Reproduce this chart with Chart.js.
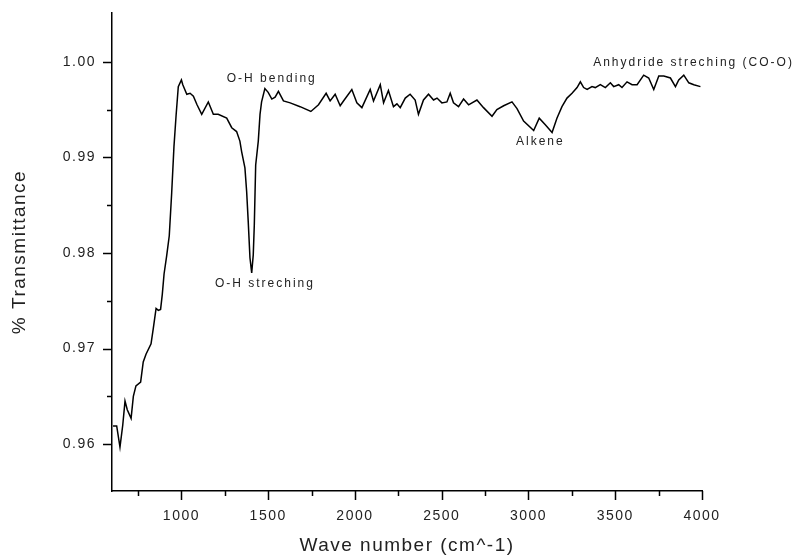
<!DOCTYPE html>
<html>
<head>
<meta charset="utf-8">
<script src="https://cdn.jsdelivr.net/npm/chart.js@4.4.1/dist/chart.umd.min.js"></script>
<style>
  html, body { margin: 0; padding: 0; background: #fff; }
  #wrap { width: 792px; height: 558px; }
</style>
</head>
<body>
<div id="wrap"><canvas id="ftirChart" width="792" height="558"></canvas></div>
<script>
// FTIR spectrum
const waveNumbers = [
  606, 627, 646, 662, 675, 688, 710, 723, 738, 765, 780, 796, 825, 838, 854, 867, 880, 890,
  900, 915, 930, 944, 957, 969, 982, 1000, 1008, 1031, 1050, 1069, 1090, 1117, 1155, 1184,
  1212, 1261, 1290, 1318, 1337, 1347, 1366, 1376, 1385, 1395, 1405, 1414, 1420, 1428, 1443,
  1453, 1462, 1481, 1500, 1521, 1540, 1559, 1588, 1627, 1684, 1746, 1790, 1834, 1857, 1886,
  1915, 1934, 1982, 2011, 2040, 2088, 2107, 2146, 2165, 2193, 2222, 2242, 2261, 2290, 2318,
  2347, 2366, 2395, 2424, 2453, 2473, 2501, 2530, 2549, 2568, 2597, 2626, 2655, 2703, 2741,
  2790, 2818, 2857, 2905, 2934, 2972, 3030, 3062, 3097, 3136, 3164, 3193, 3222, 3251, 3280,
  3299, 3318, 3338, 3366, 3385, 3414, 3443, 3472, 3491, 3520, 3539, 3568, 3597, 3626, 3664,
  3693, 3722, 3751, 3780, 3818, 3847, 3866, 3895, 3924, 3953, 3991
];
const transmittance = [
  0.9619, 0.9619, 0.9597, 0.9620, 0.9645, 0.9636, 0.9627, 0.9650, 0.9661, 0.9665, 0.9686, 0.9694, 0.9705, 0.9721, 0.9742, 0.9740, 0.9741, 0.9757,
  0.9778, 0.9797, 0.9818, 0.9863, 0.9911, 0.9943, 0.9974, 0.9981, 0.9976, 0.9966, 0.9967, 0.9964, 0.9955, 0.9945, 0.9958, 0.9945,
  0.9945, 0.9941, 0.9931, 0.9927, 0.9917, 0.9906, 0.9889, 0.9864, 0.9833, 0.9795, 0.9779, 0.9798, 0.9829, 0.9892, 0.9917,
  0.9945, 0.9958, 0.9972, 0.9968, 0.9961, 0.9963, 0.9969, 0.9959, 0.9957, 0.9953, 0.9948, 0.9955, 0.9967, 0.9959, 0.9966,
  0.9954, 0.9959, 0.9971, 0.9957, 0.9952, 0.9971, 0.9959, 0.9976, 0.9957, 0.9970, 0.9953, 0.9956, 0.9952, 0.9962, 0.9966,
  0.9960, 0.9945, 0.9960, 0.9966, 0.9960, 0.9962, 0.9957, 0.9958, 0.9967, 0.9957, 0.9953, 0.9961, 0.9955, 0.9960, 0.9952,
  0.9943, 0.9950, 0.9954, 0.9958, 0.9951, 0.9938, 0.9928, 0.9941, 0.9934, 0.9926, 0.9941, 0.9953, 0.9962, 0.9967, 0.9973,
  0.9979, 0.9973, 0.9971, 0.9974, 0.9973, 0.9976, 0.9973, 0.9978, 0.9974, 0.9976, 0.9973, 0.9979, 0.9976, 0.9976, 0.9986,
  0.9983, 0.9971, 0.9985, 0.9985, 0.9983, 0.9974, 0.9981, 0.9986, 0.9978, 0.9976, 0.9974
];

const xMajorTicks = [1000, 1500, 2000, 2500, 3000, 3500, 4000];
const xMinorTicks = [750, 1250, 1750, 2250, 2750, 3250, 3750];
const yMajorTicks = [0.96, 0.97, 0.98, 0.99, 1.00];
const yMinorTicks = [0.965, 0.975, 0.985, 0.995];

const peakLabels = ['O-H bending', 'O-H streching', 'Alkene', 'Anhydride streching (CO-O)'];
const peakLabelX = [1261, 1193, 2928, 3373];
const peakLabelY = [0.99822, 0.97683, 0.99165, 0.99986];

const FONT = '"Liberation Sans", Arial, sans-serif';

// Origin-style spaced lettering for all the canvas text
const spacedText = {
  id: 'spacedText',
  beforeDraw(chart) {
    chart.ctx.letterSpacing = '1.5px';
  }
};

// major/minor tick marks pointing outward
const tickMarks = {
  id: 'tickMarks',
  afterDraw(chart) {
    const {ctx, chartArea, scales: {x, y}} = chart;
    ctx.save();
    ctx.strokeStyle = '#000';
    ctx.lineWidth = 1.5;
    ctx.beginPath();
    const xMark = (v, len) => {
      const px = Math.round(x.getPixelForValue(v)) + 0.5;
      ctx.moveTo(px, chartArea.bottom);
      ctx.lineTo(px, chartArea.bottom + len);
    };
    const yMark = (v, len) => {
      const py = Math.round(y.getPixelForValue(v)) + 0.5;
      ctx.moveTo(chartArea.left, py);
      ctx.lineTo(chartArea.left - len, py);
    };
    xMajorTicks.forEach(v => xMark(v, 9));
    xMinorTicks.forEach(v => xMark(v, 5));
    yMajorTicks.forEach(v => yMark(v, 9));
    yMinorTicks.forEach(v => yMark(v, 5));
    ctx.stroke();
    ctx.restore();
  }
};

const peakText = {
  id: 'peakText',
  afterDatasetsDraw(chart) {
    const {ctx, scales: {x, y}} = chart;
    ctx.save();
    ctx.font = '12px ' + FONT;
    ctx.letterSpacing = '2px';
    ctx.fillStyle = '#222';
    ctx.textAlign = 'left';
    ctx.textBaseline = 'middle';
    peakLabels.forEach((t, i) => {
      ctx.fillText(t, x.getPixelForValue(peakLabelX[i]), y.getPixelForValue(peakLabelY[i]));
    });
    ctx.restore();
  }
};

new Chart(document.getElementById('ftirChart'), {
  type: 'line',
  data: {
    datasets: [{
      data: waveNumbers.map((w, i) => ({x: w, y: transmittance[i]})),
      borderColor: '#000',
      borderWidth: 1.5,
      pointRadius: 0,
      tension: 0,
      fill: false
    }]
  },
  options: {
    responsive: false,
    animation: false,
    devicePixelRatio: 1,
    layout: { padding: { top: 13, right: 90, left: 0, bottom: 0 } },
    plugins: { legend: { display: false }, tooltip: { enabled: false } },
    scales: {
      x: {
        type: 'linear',
        min: 600,
        max: 4000,
        afterBuildTicks: s => { s.ticks = xMajorTicks.map(v => ({value: v})); },
        afterFit: s => { s.height = 67; s.paddingLeft = 0; s.paddingRight = 0; },
        grid: { drawOnChartArea: false, drawTicks: false },
        border: { display: true, color: '#000', width: 1.5 },
        ticks: { color: '#222', padding: 17, maxRotation: 0, font: { family: FONT, size: 14 }, callback: v => String(v) },
        title: { display: true, text: 'Wave number (cm^-1)', color: '#222', font: { family: FONT, size: 19 }, padding: { top: 0, bottom: 1 } }
      },
      y: {
        type: 'linear',
        min: 0.9551,
        max: 1.0051,
        afterBuildTicks: s => { s.ticks = yMajorTicks.map(v => ({value: v})); },
        afterFit: s => { s.width = 112; s.paddingTop = 0; s.paddingBottom = 0; },
        grid: { drawOnChartArea: false, drawTicks: false },
        border: { display: true, color: '#000', width: 1.5 },
        ticks: { color: '#222', padding: 16, font: { family: FONT, size: 14 }, callback: v => v.toFixed(2) },
        title: { display: true, text: '% Transmittance', color: '#222', font: { family: FONT, size: 19 }, padding: { top: 8, bottom: 0 } }
      }
    }
  },
  plugins: [spacedText, tickMarks, peakText]
});
</script>
</body>
</html>
